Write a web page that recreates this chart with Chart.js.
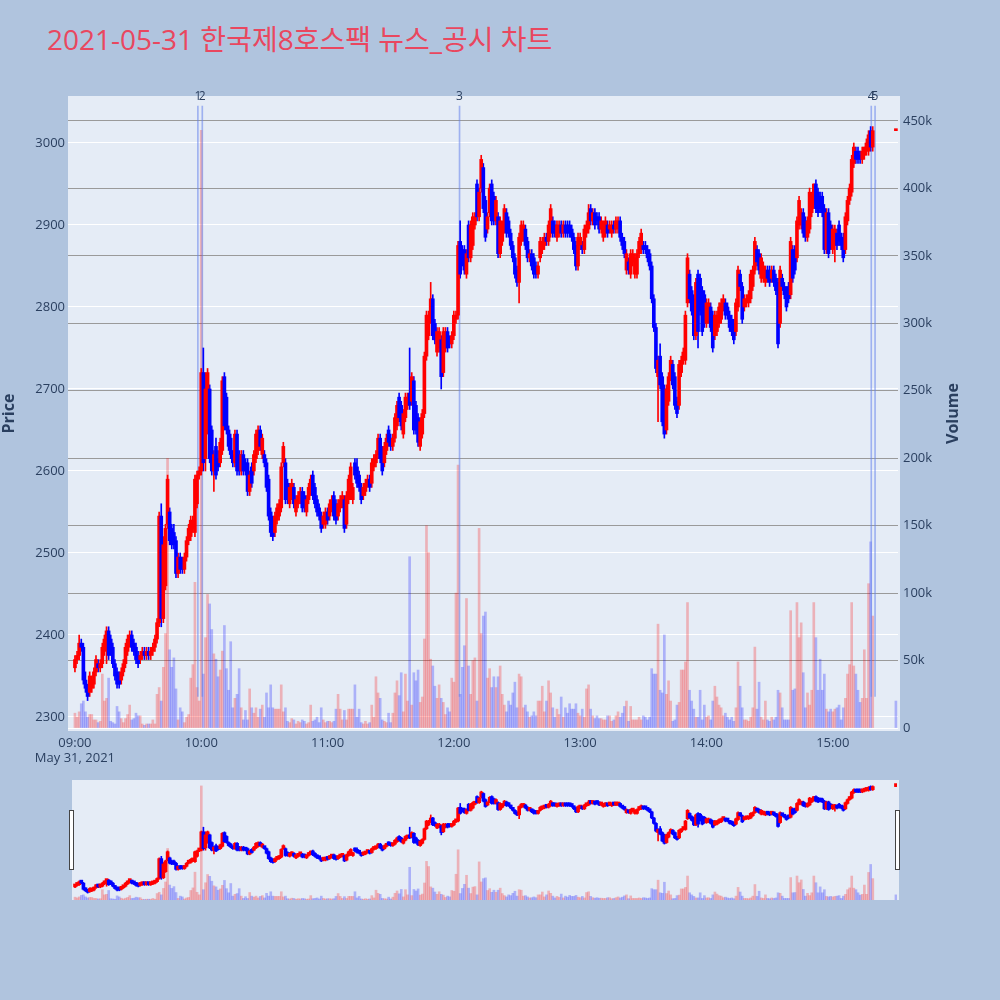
<!DOCTYPE html>
<html>
<head>
<meta charset="utf-8">
<script src="https://cdn.jsdelivr.net/npm/chart.js@4.4.1/dist/chart.umd.min.js"></script>
<style>
  body { margin: 0; background: #b0c4de; }
  #wrap { position: relative; width: 1000px; height: 1000px; overflow: hidden; }
  #title { position: absolute; left: 47px; top: 25px; font-family: "Open Sans", "Noto Sans CJK KR", sans-serif;
           font-size: 28px; line-height: 28px; color: #e9475f; white-space: nowrap; }
  #main { position: absolute; left: 0; top: 0; width: 1000px; height: 780px; }
  #mini { position: absolute; left: 0; top: 780px; width: 1000px; height: 120px; }
  .handle { position: absolute; top: 810px; width: 3px; height: 58px; background: #fff; border: 1px solid #444; }
</style>
</head>
<body>
<div id="wrap">
  <div id="title">2021-05-31 한국제8호스팩 뉴스_공시 차트</div>
  <div id="main"><canvas id="chartMain"></canvas></div>
  <div id="mini"><canvas id="chartMini"></canvas></div>
  <div class="handle" style="left:69px"></div>
  <div class="handle" style="left:895px"></div>
</div>
<script>
// minute bars, x = minutes after 09:00 (continuous session to 15:19, closing auction at 15:30)
const times = [];
for (let m = 0; m < 380; m++) times.push(m);
times.push(390);

const opens = [
  2360,2370,2375,2390,2385,2345,2335,2330,2335,2340,2355,2365,2360,2365,2380,2395,2405,2395,2385,2365,
  2355,2350,2345,2355,2365,2380,2395,2400,2390,2385,2375,2370,2375,2380,2375,2380,2375,2380,2385,2395,
  2415,2545,2420,2460,2535,2550,2530,2525,2515,2475,2495,2490,2480,2495,2515,2520,2530,2525,2560,2595,
  2600,2720,2615,2650,2700,2650,2600,2630,2615,2610,2625,2715,2690,2650,2640,2620,2610,2645,2620,2600,
  2620,2610,2610,2575,2605,2600,2615,2625,2650,2620,2620,2610,2590,2550,2540,2525,2540,2545,2555,2610,
  2610,2585,2560,2570,2580,2550,2560,2570,2575,2570,2550,2565,2575,2595,2580,2565,2555,2545,2535,2535,
  2550,2545,2555,2570,2560,2545,2555,2560,2565,2535,2565,2570,2565,2610,2605,2595,2580,2570,2575,2585,
  2590,2585,2605,2610,2620,2640,2625,2610,2625,2650,2640,2630,2640,2655,2690,2680,2645,2665,2680,2695,
  2685,2710,2680,2665,2630,2645,2670,2740,2765,2785,2810,2780,2745,2750,2760,2720,2750,2770,2760,2755,
  2765,2785,2790,2880,2870,2870,2840,2900,2860,2875,2900,2950,2910,2945,2970,2930,2895,2915,2950,2935,
  2905,2910,2865,2880,2895,2915,2905,2890,2875,2860,2845,2830,2880,2885,2895,2880,2860,2865,2860,2850,
  2840,2860,2870,2875,2885,2880,2890,2905,2900,2885,2890,2900,2890,2900,2900,2900,2895,2885,2875,2850,
  2875,2875,2870,2890,2895,2920,2905,2915,2910,2910,2895,2885,2890,2900,2895,2890,2900,2895,2895,2905,
  2885,2880,2845,2855,2840,2855,2840,2840,2865,2870,2875,2875,2870,2865,2850,2810,2775,2715,2740,2715,
  2700,2650,2685,2715,2730,2715,2685,2680,2720,2735,2735,2805,2840,2820,2810,2765,2840,2835,2820,2815,
  2780,2785,2800,2790,2765,2770,2780,2785,2800,2805,2800,2790,2785,2780,2770,2800,2840,2825,2800,2805,
  2805,2810,2825,2845,2870,2865,2835,2835,2830,2845,2845,2835,2845,2835,2830,2780,2835,2825,2820,2825,
  2815,2870,2870,2860,2900,2900,2915,2905,2885,2895,2915,2925,2950,2940,2935,2935,2920,2870,2915,2900,
  2870,2875,2890,2900,2885,2885,2870,2905,2930,2940,2975,2990,2990,2985,2980,2985,2990,2990,3015,2995,
  3015
];
const closes = [
  2370,2375,2390,2385,2345,2335,2325,2350,2345,2355,2370,2360,2365,2385,2395,2405,2375,2380,2365,2350,
  2340,2340,2355,2365,2385,2395,2400,2385,2380,2370,2365,2375,2380,2375,2380,2375,2380,2385,2395,2415,
  2545,2420,2510,2530,2590,2515,2510,2510,2475,2495,2480,2480,2495,2515,2530,2540,2540,2590,2595,2600,
  2720,2610,2700,2720,2615,2600,2620,2595,2605,2635,2710,2655,2650,2630,2620,2610,2645,2600,2600,2620,
  2600,2600,2575,2595,2585,2620,2645,2650,2630,2640,2610,2580,2545,2525,2520,2545,2555,2560,2605,2630,
  2565,2565,2580,2585,2560,2565,2570,2575,2555,2555,2565,2580,2590,2570,2560,2550,2545,2530,2545,2550,
  2540,2560,2565,2545,2540,2560,2565,2570,2530,2570,2590,2605,2580,2595,2585,2580,2565,2580,2585,2590,
  2580,2610,2615,2620,2640,2615,2600,2630,2640,2635,2630,2640,2665,2680,2665,2655,2670,2690,2690,2680,
  2715,2650,2650,2635,2660,2670,2740,2790,2790,2810,2765,2760,2770,2770,2715,2770,2770,2750,2755,2765,
  2790,2790,2875,2840,2855,2845,2865,2860,2900,2910,2910,2910,2940,2980,2920,2885,2910,2945,2905,2905,
  2930,2865,2905,2900,2920,2890,2890,2875,2860,2840,2830,2885,2900,2900,2875,2860,2865,2850,2840,2840,
  2850,2880,2880,2885,2880,2900,2920,2890,2890,2900,2900,2890,2900,2890,2890,2890,2885,2870,2850,2885,
  2885,2870,2895,2900,2915,2905,2915,2900,2905,2895,2905,2900,2905,2890,2900,2900,2895,2905,2905,2885,
  2875,2865,2865,2845,2865,2865,2860,2865,2880,2890,2870,2870,2860,2850,2810,2775,2725,2735,2705,2660,
  2645,2700,2715,2735,2705,2680,2670,2730,2735,2745,2790,2860,2810,2795,2765,2830,2770,2795,2770,2780,
  2805,2805,2775,2750,2790,2790,2800,2805,2810,2790,2790,2775,2770,2760,2805,2845,2825,2785,2810,2810,
  2815,2840,2845,2880,2855,2845,2860,2850,2845,2835,2830,2845,2830,2820,2755,2845,2825,2815,2800,2810,
  2880,2835,2845,2905,2930,2915,2890,2885,2905,2940,2935,2950,2920,2915,2920,2915,2870,2915,2865,2875,
  2895,2895,2875,2880,2875,2860,2910,2930,2945,2980,2995,2980,2980,2980,2990,2995,3000,3010,2995,3015,
  3015
];
const highs = [
  2375,2380,2400,2395,2390,2355,2340,2355,2350,2360,2375,2370,2370,2390,2400,2410,2410,2400,2390,2370,
  2360,2355,2360,2370,2390,2400,2405,2405,2395,2390,2380,2380,2385,2385,2385,2385,2385,2390,2400,2420,
  2550,2560,2520,2535,2595,2555,2535,2535,2520,2500,2500,2495,2500,2520,2535,2545,2545,2595,2600,2605,
  2725,2750,2720,2725,2705,2655,2625,2640,2625,2640,2715,2720,2695,2655,2645,2625,2650,2650,2625,2625,
  2625,2615,2615,2600,2610,2625,2650,2655,2655,2645,2625,2615,2595,2555,2545,2550,2560,2565,2610,2635,
  2615,2590,2585,2590,2585,2570,2575,2580,2580,2575,2570,2585,2595,2600,2585,2570,2560,2550,2550,2555,
  2555,2565,2570,2575,2565,2565,2570,2575,2570,2575,2595,2610,2585,2615,2615,2600,2585,2585,2590,2595,
  2595,2615,2620,2625,2645,2645,2630,2635,2645,2655,2645,2645,2670,2685,2695,2685,2675,2695,2695,2750,
  2720,2715,2685,2670,2665,2675,2745,2795,2795,2830,2815,2785,2775,2775,2765,2775,2775,2775,2765,2770,
  2795,2795,2880,2905,2875,2875,2870,2905,2905,2915,2915,2955,2945,2985,2975,2935,2915,2950,2955,2940,
  2935,2915,2910,2905,2925,2920,2910,2895,2880,2865,2850,2890,2905,2905,2900,2885,2870,2870,2865,2855,
  2855,2885,2885,2890,2890,2905,2925,2910,2905,2905,2905,2905,2905,2905,2905,2905,2900,2890,2880,2890,
  2890,2880,2900,2905,2925,2925,2920,2920,2915,2915,2910,2905,2910,2905,2905,2905,2905,2910,2910,2910,
  2890,2885,2870,2860,2870,2870,2865,2870,2885,2895,2880,2880,2875,2870,2855,2815,2780,2740,2755,2720,
  2705,2705,2720,2740,2735,2720,2690,2735,2740,2750,2795,2865,2845,2825,2815,2835,2845,2840,2825,2820,
  2810,2810,2805,2795,2795,2795,2805,2810,2815,2810,2805,2795,2790,2785,2810,2850,2845,2830,2815,2815,
  2820,2845,2850,2885,2875,2870,2865,2855,2850,2850,2850,2850,2850,2840,2835,2850,2840,2830,2825,2830,
  2885,2875,2875,2910,2935,2920,2920,2910,2910,2945,2940,2950,2955,2945,2940,2940,2925,2920,2920,2905,
  2900,2900,2895,2905,2890,2890,2915,2935,2950,2985,3000,2995,2995,2990,2995,2995,3005,3015,3020,3020,
  3015
];
const lows = [
  2355,2365,2370,2380,2340,2330,2320,2325,2330,2335,2350,2355,2355,2360,2375,2365,2370,2375,2360,2345,
  2335,2335,2340,2350,2360,2375,2385,2380,2375,2365,2360,2365,2370,2370,2370,2370,2370,2375,2380,2390,
  2410,2410,2415,2455,2530,2510,2505,2505,2470,2470,2475,2475,2475,2490,2510,2515,2525,2520,2555,2590,
  2595,2600,2600,2645,2610,2595,2575,2590,2600,2605,2620,2650,2645,2625,2615,2605,2605,2595,2595,2595,
  2595,2595,2570,2570,2580,2595,2610,2620,2625,2615,2605,2575,2540,2520,2515,2520,2535,2540,2550,2605,
  2560,2560,2555,2565,2555,2545,2555,2560,2550,2550,2545,2560,2570,2565,2555,2545,2540,2525,2530,2530,
  2535,2540,2550,2540,2535,2540,2550,2555,2525,2530,2560,2565,2560,2590,2580,2575,2560,2565,2570,2580,
  2575,2580,2600,2605,2615,2610,2595,2605,2620,2630,2625,2625,2635,2650,2660,2650,2640,2660,2675,2675,
  2680,2645,2645,2630,2625,2640,2665,2735,2760,2780,2760,2755,2740,2745,2700,2715,2745,2745,2750,2750,
  2760,2780,2785,2835,2850,2840,2835,2855,2855,2870,2895,2905,2905,2940,2915,2880,2890,2910,2900,2900,
  2900,2860,2860,2875,2890,2885,2885,2870,2855,2835,2825,2805,2875,2880,2870,2855,2855,2845,2835,2835,
  2835,2855,2865,2870,2875,2875,2885,2885,2885,2880,2885,2885,2885,2885,2885,2885,2880,2865,2845,2845,
  2870,2865,2865,2885,2890,2900,2900,2895,2900,2890,2890,2880,2885,2885,2890,2885,2890,2890,2890,2880,
  2870,2860,2840,2840,2835,2850,2835,2835,2860,2865,2865,2865,2855,2845,2805,2770,2720,2660,2700,2655,
  2640,2645,2680,2710,2700,2675,2665,2675,2715,2730,2730,2800,2805,2790,2760,2760,2750,2790,2765,2775,
  2775,2780,2770,2745,2760,2765,2775,2780,2795,2785,2785,2770,2765,2755,2765,2795,2820,2780,2795,2800,
  2800,2805,2820,2840,2850,2840,2830,2830,2825,2830,2825,2830,2825,2815,2750,2775,2820,2810,2795,2805,
  2810,2830,2840,2855,2895,2895,2885,2880,2880,2890,2910,2920,2915,2910,2915,2910,2865,2865,2860,2870,
  2865,2855,2870,2875,2870,2855,2865,2900,2925,2935,2970,2975,2975,2975,2975,2980,2985,2985,2990,2990,
  3015
];
// volume in thousands of shares
const volumeK = [
  11,8,12,18,20,12,8,10,10,6,6,4,5,40,20,22,37,5,4,3,
  16,12,7,4,7,10,17,6,7,11,9,9,3,2,3,3,3,6,3,25,
  30,20,45,70,200,58,45,52,29,6,15,12,4,8,10,37,47,108,30,20,
  443,40,67,99,92,73,55,51,38,43,57,76,44,28,64,15,22,25,44,15,
  6,13,6,29,15,11,15,8,14,17,8,26,15,32,15,14,14,14,32,12,
  15,5,4,7,6,3,5,4,6,5,3,4,17,5,6,8,4,15,6,4,
  5,5,4,5,14,25,14,6,13,6,14,14,14,32,8,14,4,3,5,3,
  4,17,8,38,26,22,6,5,4,11,4,11,26,35,24,41,12,40,20,127,
  17,41,35,43,19,23,66,150,130,51,46,31,22,32,22,19,10,15,12,37,
  34,100,195,25,45,61,96,46,25,50,52,20,148,70,83,86,37,44,30,38,
  30,38,46,25,17,12,20,17,26,34,15,40,38,15,17,12,8,9,12,9,
  20,20,31,12,20,35,26,15,8,14,10,23,8,15,11,18,14,14,18,11,
  9,14,8,29,32,14,9,7,9,7,7,6,6,9,9,5,6,9,12,8,
  11,16,20,5,16,6,6,6,8,6,9,8,6,8,44,40,40,77,28,26,
  69,25,35,20,5,6,17,19,43,43,49,93,28,20,14,8,8,28,6,17,
  8,9,6,20,31,23,17,15,9,11,8,6,8,5,15,49,31,15,6,6,
  5,8,15,60,14,34,8,6,20,6,5,8,6,8,28,26,15,6,6,6,
  87,28,29,93,67,78,41,15,26,17,28,93,67,28,51,28,40,14,12,14,
  12,14,15,17,6,15,22,40,47,93,46,40,28,19,22,58,22,107,138,83,
  20
];

// news / disclosure markers (minutes after 09:00)
const newsTimes = [58.4, 60.5, 182.7, 378.3, 380.1];
const newsLabels = ['1', '2', '3', '4', '5'];
const newsSpan = [2325, 3045];

// axis ticks
const timeTicks = [0, 60, 120, 180, 240, 300, 360];
const timeTickLabels = ['09:00', '10:00', '11:00', '12:00', '13:00', '14:00', '15:00'];
const dateLabel = 'May 31, 2021';
const priceTicks = [2300, 2400, 2500, 2600, 2700, 2800, 2900, 3000];
const volumeTicks = [0, 50, 100, 150, 200, 250, 300, 350, 400, 450];
const volumeTickLabels = ['0', '50k', '100k', '150k', '200k', '250k', '300k', '350k', '400k', '450k'];

const textColor = '#2a3f5f';
const fontFamily = '"Open Sans", "Noto Sans", sans-serif';

const candleColors = times.map((t, i) => closes[i] >= opens[i] ? '#ff0000' : '#0000ff');
const volumeColors = times.map((t, i) => closes[i] > opens[i] ? 'rgba(255,0,0,0.25)' : 'rgba(0,0,255,0.25)');

function buildDatasets(mini) {
    const sets = [
        {
            label: 'Volume', yAxisID: 'yv', order: 4, grouped: false,
            data: times.map((t, i) => ({ x: t, y: volumeK[i] })),
            backgroundColor: volumeColors, barThickness: 2,
        },
        {
            label: 'Wick', yAxisID: 'yp', order: 2, grouped: false,
            data: times.map((t, i) => ({ x: t, y: [lows[i], highs[i]] })),
            backgroundColor: candleColors, barThickness: 1,
        },
        {
            label: 'Body', yAxisID: 'yp', order: 1, grouped: false,
            data: times.map((t, i) => ({ x: t, y: [opens[i], closes[i]] })),
            backgroundColor: candleColors, barThickness: 3, minBarLength: mini ? 3 : 2,
        },
    ];
    if (!mini) {
        sets.push({
            label: 'News', yAxisID: 'yp', order: 3, grouped: false,
            data: newsTimes.map(t => ({ x: t, y: newsSpan })),
            backgroundColor: 'rgba(100,130,235,0.55)', barThickness: 1,
        });
    }
    return sets;
}

const plotBackground = {
    id: 'plotBackground',
    beforeDraw(chart) {
        const { ctx, chartArea: a } = chart;
        ctx.save();
        ctx.fillStyle = '#e5ecf6';
        ctx.fillRect(a.left, a.top, a.right - a.left + 2, a.bottom - a.top);
        ctx.restore();
    }
};

const newsLabelPlugin = {
    id: 'newsLabels',
    afterDatasetsDraw(chart) {
        const idx = chart.data.datasets.findIndex(d => d.label === 'News');
        if (idx < 0) return;
        const { ctx, chartArea } = chart;
        ctx.save();
        ctx.fillStyle = textColor;
        ctx.font = '12px ' + fontFamily;
        ctx.textAlign = 'center';
        ctx.textBaseline = 'middle';
        chart.getDatasetMeta(idx).data.forEach((el, i) => {
            ctx.fillText(newsLabels[i], el.x, chartArea.top + 1);
        });
        ctx.restore();
    }
};

// right axis title reads bottom-to-top like the left one
const volumeTitle = {
    id: 'volumeTitle',
    afterDraw(chart) {
        const { ctx, chartArea: a } = chart;
        ctx.save();
        ctx.translate(a.right + 55, (a.top + a.bottom) / 2);
        ctx.rotate(-Math.PI / 2);
        ctx.fillStyle = textColor;
        ctx.font = 'bold 16px ' + fontFamily;
        ctx.textAlign = 'center';
        ctx.textBaseline = 'middle';
        ctx.fillText('Volume', 0, 0);
        ctx.restore();
    }
};

const tickFont = { family: fontFamily, size: 13 };

new Chart(document.getElementById('chartMain'), {
    type: 'bar',
    data: { datasets: buildDatasets(false) },
    options: {
        responsive: true,
        maintainAspectRatio: false,
        animation: false,
        layout: { padding: { top: 96, right: 37, left: 0, bottom: 0 } },
        plugins: { legend: { display: false }, tooltip: { enabled: false } },
        scales: {
            x: {
                type: 'linear', min: -3.3, max: 391, offset: false,
                grid: { display: false, drawTicks: false },
                border: { display: false },
                afterBuildTicks: s => { s.ticks = timeTicks.map(v => ({ value: v })); },
                afterFit: s => { s.height = 49; },
                ticks: {
                    autoSkip: false, maxRotation: 0, padding: 4, color: textColor, font: tickFont,
                    callback: (v, i) => i === 0 ? [timeTickLabels[i], dateLabel] : timeTickLabels[i],
                },
            },
            yp: {
                type: 'linear', position: 'left', min: 2282.9, max: 3057.3,
                grid: { color: '#ffffff', lineWidth: 1, drawTicks: false },
                border: { display: false },
                afterBuildTicks: s => { s.ticks = priceTicks.map(v => ({ value: v })); },
                afterFit: s => { s.width = 68; },
                ticks: { padding: 3, color: textColor, font: tickFont, callback: v => String(v) },
                title: {
                    display: true, text: 'Price', color: textColor, padding: 0,
                    font: { family: fontFamily, size: 16, weight: 'bold' },
                },
            },
            yv: {
                type: 'linear', position: 'right', min: -2.2, max: 468.5,
                grid: {
                    color: c => c.tick && c.tick.value === 0 ? '#ffffff' : '#9a9a9a',
                    lineWidth: 1, drawTicks: false,
                },
                border: { display: false },
                afterBuildTicks: s => { s.ticks = volumeTicks.map(v => ({ value: v })); },
                afterFit: s => { s.width = 65; },
                ticks: {
                    padding: 5, color: textColor, font: tickFont,
                    callback: (v, i) => volumeTickLabels[i],
                },
            },
        },
    },
    plugins: [plotBackground, newsLabelPlugin, volumeTitle],
});

// range slider preview
new Chart(document.getElementById('chartMini'), {
    type: 'bar',
    data: { datasets: buildDatasets(true) },
    options: {
        responsive: true,
        maintainAspectRatio: false,
        animation: false,
        layout: { padding: { top: 0, right: 103, left: 72, bottom: 0 } },
        plugins: { legend: { display: false }, tooltip: { enabled: false } },
        scales: {
            x: { type: 'linear', display: false, min: -1.43, max: 390.5, offset: false },
            yp: { type: 'linear', display: false, min: 2275, max: 3058 },
            yv: { type: 'linear', display: false, position: 'right', min: 0, max: 466 },
        },
    },
    plugins: [plotBackground],
});
</script>
</body>
</html>
